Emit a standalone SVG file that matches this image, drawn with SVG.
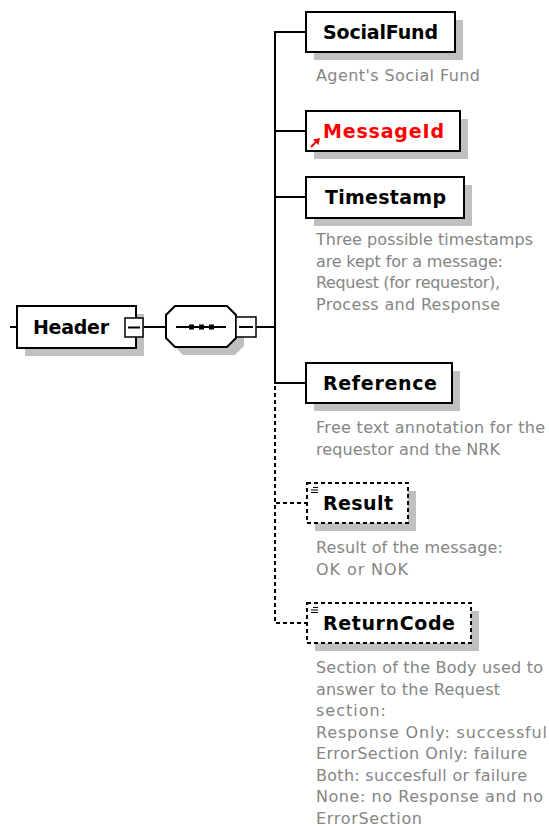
<svg xmlns="http://www.w3.org/2000/svg" width="549" height="826" viewBox="0 0 549 826">
<style>
.shadow{fill:#c0c0c0;stroke:none}
.box{fill:#fff;stroke:#000;stroke-width:2}
.dbox{fill:#fff;stroke:#000;stroke-width:2;stroke-dasharray:4 3}
.lbl{font-family:"DejaVu Sans",Verdana,sans-serif;font-weight:bold;font-size:19px;fill:#000}
.ann{font-family:"DejaVu Sans",Verdana,sans-serif;font-size:16px;fill:#858585}
.ln{stroke:#000;stroke-width:2;fill:none}
.dln{stroke:#000;stroke-width:2;fill:none;stroke-dasharray:4 3}
.mbox{fill:#fff;stroke:#000;stroke-width:1.5}
</style>
<rect width="549" height="826" fill="#fff"/>
<g id="connectors">
<line class="ln" x1="10" y1="327" x2="17" y2="327"/>
<line class="ln" x1="143" y1="327" x2="166" y2="327"/>
<line class="ln" x1="256" y1="327" x2="275" y2="327"/>
<line class="ln" x1="275" y1="31" x2="275" y2="384"/>
<line class="dln" x1="275" y1="386" x2="275" y2="623"/>
<line class="ln" x1="274" y1="32" x2="306" y2="32"/>
<line class="ln" x1="274" y1="131" x2="306" y2="131"/>
<line class="ln" x1="274" y1="197" x2="306" y2="197"/>
<line class="ln" x1="274" y1="383" x2="306" y2="383"/>
<line class="dln" x1="276" y1="503" x2="306" y2="503"/>
<line class="dln" x1="276" y1="623" x2="306" y2="623"/>
</g>
<g id="Header">
<rect class="shadow" x="25" y="314" width="119" height="42"/>
<rect class="box" x="17" y="306" width="119" height="42"/>
<text class="lbl" x="33" y="334" textLength="76">Header</text>
<rect class="mbox" x="125" y="318" width="18" height="19"/>
<line class="ln" x1="128" y1="327.5" x2="140" y2="327.5" stroke-width="1.5"/>
</g>
<g id="sequence">
<polygon class="shadow" points="183,314 235,314 244,323 244,346 235,355 183,355 174,346 174,323"/>
<polygon class="box" points="175,306 227,306 236,315 236,338 227,347 175,347 166,338 166,315"/>
<line class="ln" x1="176" y1="327" x2="226" y2="327" stroke-width="1.5"/>
<rect x="189" y="324.5" width="5" height="5" fill="#000"/>
<rect x="199" y="324.5" width="5" height="5" fill="#000"/>
<rect x="209" y="324.5" width="5" height="5" fill="#000"/>
<rect class="mbox" x="236" y="317" width="20" height="20"/>
<line class="ln" x1="239" y1="327" x2="253" y2="327" stroke-width="1.5"/>
</g>
<g id="SocialFund">
<rect class="shadow" x="314" y="20" width="149" height="40"/>
<rect class="box" x="306" y="12" width="149" height="40"/>
<text class="lbl" x="323" y="39" textLength="115">SocialFund</text>
<text class="ann" x="316" y="81" textLength="164">Agent's Social Fund</text>
</g>
<g id="MessageId">
<rect class="shadow" x="314" y="119" width="154" height="40"/>
<rect class="box" x="306" y="111" width="154" height="40"/>
<text class="lbl" x="323" y="138" textLength="121" style="fill:#f00">MessageId</text>
<line x1="311" y1="147" x2="317" y2="141" stroke="#f00" stroke-width="2"/>
<polygon points="320,138 313,139.5 318.5,145" fill="#f00"/>
</g>
<g id="Timestamp">
<rect class="shadow" x="314" y="185" width="158" height="41"/>
<rect class="box" x="306" y="177" width="158" height="41"/>
<text class="lbl" x="325" y="204" textLength="121">Timestamp</text>
<text class="ann" x="316" y="245" textLength="217">Three possible timestamps</text>
<text class="ann" x="316" y="266.5" textLength="187">are kept for a message:</text>
<text class="ann" x="316" y="288" textLength="184">Request (for requestor),</text>
<text class="ann" x="316" y="309.5" textLength="184">Process and Response</text>
</g>
<g id="Reference">
<rect class="shadow" x="314" y="371" width="146" height="40"/>
<rect class="box" x="306" y="363" width="146" height="40"/>
<text class="lbl" x="323" y="390" textLength="114">Reference</text>
<text class="ann" x="316" y="433" textLength="229">Free text annotation for the</text>
<text class="ann" x="316" y="454.5" textLength="184">requestor and the NRK</text>
</g>
<g id="Result">
<rect class="shadow" x="315" y="491" width="101" height="40"/>
<rect class="dbox" x="307" y="483" width="101" height="40"/>
<g stroke="#000" stroke-width="1">
<line x1="313" y1="487.5" x2="318" y2="487.5"/>
<line x1="311" y1="490" x2="318" y2="490"/>
<line x1="311" y1="492.5" x2="318" y2="492.5"/>
</g>
<text class="lbl" x="323" y="510" textLength="70">Result</text>
<text class="ann" x="316" y="553" textLength="187">Result of the message:</text>
<text class="ann" x="316" y="574.5" textLength="92">OK or NOK</text>
</g>
<g id="ReturnCode">
<rect class="shadow" x="315" y="611" width="164" height="40"/>
<rect class="dbox" x="307" y="603" width="164" height="40"/>
<g stroke="#000" stroke-width="1">
<line x1="313" y1="607.5" x2="318" y2="607.5"/>
<line x1="311" y1="610" x2="318" y2="610"/>
<line x1="311" y1="612.5" x2="318" y2="612.5"/>
</g>
<text class="lbl" x="323" y="630" textLength="132">ReturnCode</text>
<text class="ann" x="316" y="673" textLength="227">Section of the Body used to</text>
<text class="ann" x="316" y="694.5" textLength="184">answer to the Request</text>
<text class="ann" x="316" y="716" textLength="70">section:</text>
<text class="ann" x="316" y="737.5" textLength="231">Response Only: successful</text>
<text class="ann" x="316" y="759" textLength="211">ErrorSection Only: failure</text>
<text class="ann" x="316" y="780.5" textLength="211">Both: succesfull or failure</text>
<text class="ann" x="316" y="802" textLength="227">None: no Response and no</text>
<text class="ann" x="316" y="823.5" textLength="106">ErrorSection</text>
</g>
</svg>
